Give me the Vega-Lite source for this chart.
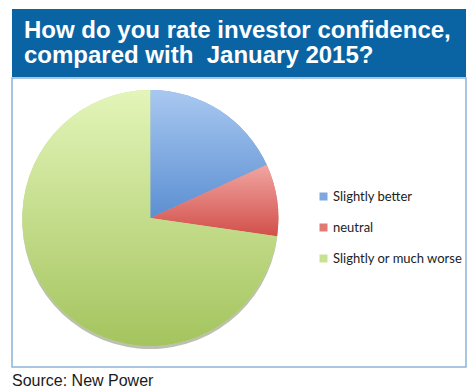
{
  "$schema": "https://vega.github.io/schema/vega-lite/v6.json",
  "padding": {"left": 11, "top": 9, "right": 10, "bottom": 0},
  "background": "white",
  "spacing": 0,
  "config": {"view": {"stroke": null}, "concat": {"spacing": 0}},
  "vconcat": [
    {
      "width": 454,
      "height": 68,
      "view": {"fill": "#0a64a4", "stroke": null},
      "data": {"values": [{"title": "How do you rate investor confidence,\ncompared with\u00a0 January 2015?"}]},
      "mark": {
        "type": "text",
        "align": "left",
        "baseline": "alphabetic",
        "dx": -215,
        "dy": -5.5,
        "font": "Liberation Sans",
        "fontWeight": "bold",
        "fontSize": 24,
        "lineHeight": 25,
        "lineBreak": "\n",
        "color": "white"
      },
      "encoding": {"text": {"field": "title", "type": "nominal"}}
    },
    {
      "width": 454,
      "height": 289,
      "view": {"stroke": "#8cb4d9", "strokeWidth": 1.5, "fill": "white"},
      "title": {
        "text": "Source: New Power",
        "orient": "bottom",
        "anchor": "start",
        "font": "Liberation Sans",
        "fontSize": 16,
        "fontWeight": "normal",
        "color": "#1a1a1a",
        "offset": 6
      },
      "data": {
        "values": [
          {"category": "Slightly better", "value": 2, "order": 1},
          {"category": "neutral", "value": 1, "order": 2},
          {"category": "Slightly or much worse", "value": 8, "order": 3}
        ]
      },
      "transform": [
        {"stack": "value", "groupby": [], "sort": [{"field": "order"}], "as": ["v0", "v1"]}
      ],
      "layer": [
        {
          "mark": {"type": "arc", "radius": 128, "xOffset": -88.7, "yOffset": -1.5, "color": "#3d4a20", "opacity": 0.35},
          "encoding": {
            "theta": {"field": "v0", "type": "quantitative", "scale": {"domain": [0, 11]}},
            "theta2": {"field": "v1"}
          }
        },
        {
          "mark": {"type": "arc", "radius": 128, "xOffset": -88.7, "yOffset": -4.5},
          "encoding": {
            "theta": {"field": "v0", "type": "quantitative", "scale": {"domain": [0, 11]}},
            "theta2": {"field": "v1"},
            "color": {
              "field": "category",
              "type": "nominal",
              "scale": {
                "domain": ["Slightly better", "neutral", "Slightly or much worse"],
                "range": ["#7ea7df", "#e07a75", "#c8e294"]
              },
              "legend": {
                "title": null,
                "orient": "none",
                "legendX": 305,
                "legendY": 181,
                "symbolType": "square",
                "symbolSize": 64,
                "symbolStrokeWidth": 0,
                "labelFont": "Lato",
                "labelFontSize": 13,
                "labelColor": "#222222",
                "labelOffset": 3,
                "rowPadding": 17
              }
            }
          }
        },
        {
          "transform": [{"filter": "datum.order == 1"}],
          "mark": {
            "type": "arc", "radius": 128, "xOffset": -88.7, "yOffset": -4.5,
            "color": {"gradient": "linear", "x1": 0, "y1": 0, "x2": 0, "y2": 1,
              "stops": [{"offset": 0, "color": "#a9c8f0"}, {"offset": 1, "color": "#5b8fd2"}]}
          },
          "encoding": {
            "theta": {"field": "v0", "type": "quantitative", "scale": {"domain": [0, 11]}},
            "theta2": {"field": "v1"}
          }
        },
        {
          "transform": [{"filter": "datum.order == 2"}],
          "mark": {
            "type": "arc", "radius": 128, "xOffset": -88.7, "yOffset": -4.5,
            "color": {"gradient": "linear", "x1": 0, "y1": 0, "x2": 0, "y2": 1,
              "stops": [{"offset": 0, "color": "#f1a6a2"}, {"offset": 1, "color": "#d24f4a"}]}
          },
          "encoding": {
            "theta": {"field": "v0", "type": "quantitative", "scale": {"domain": [0, 11]}},
            "theta2": {"field": "v1"}
          }
        },
        {
          "transform": [{"filter": "datum.order == 3"}],
          "mark": {
            "type": "arc", "radius": 128, "xOffset": -88.7, "yOffset": -4.5,
            "color": {"gradient": "linear", "x1": 0, "y1": 0, "x2": 0, "y2": 1,
              "stops": [{"offset": 0, "color": "#e3f5b9"}, {"offset": 1, "color": "#a4c45e"}]}
          },
          "encoding": {
            "theta": {"field": "v0", "type": "quantitative", "scale": {"domain": [0, 11]}},
            "theta2": {"field": "v1"}
          }
        }
      ]
    }
  ]
}
